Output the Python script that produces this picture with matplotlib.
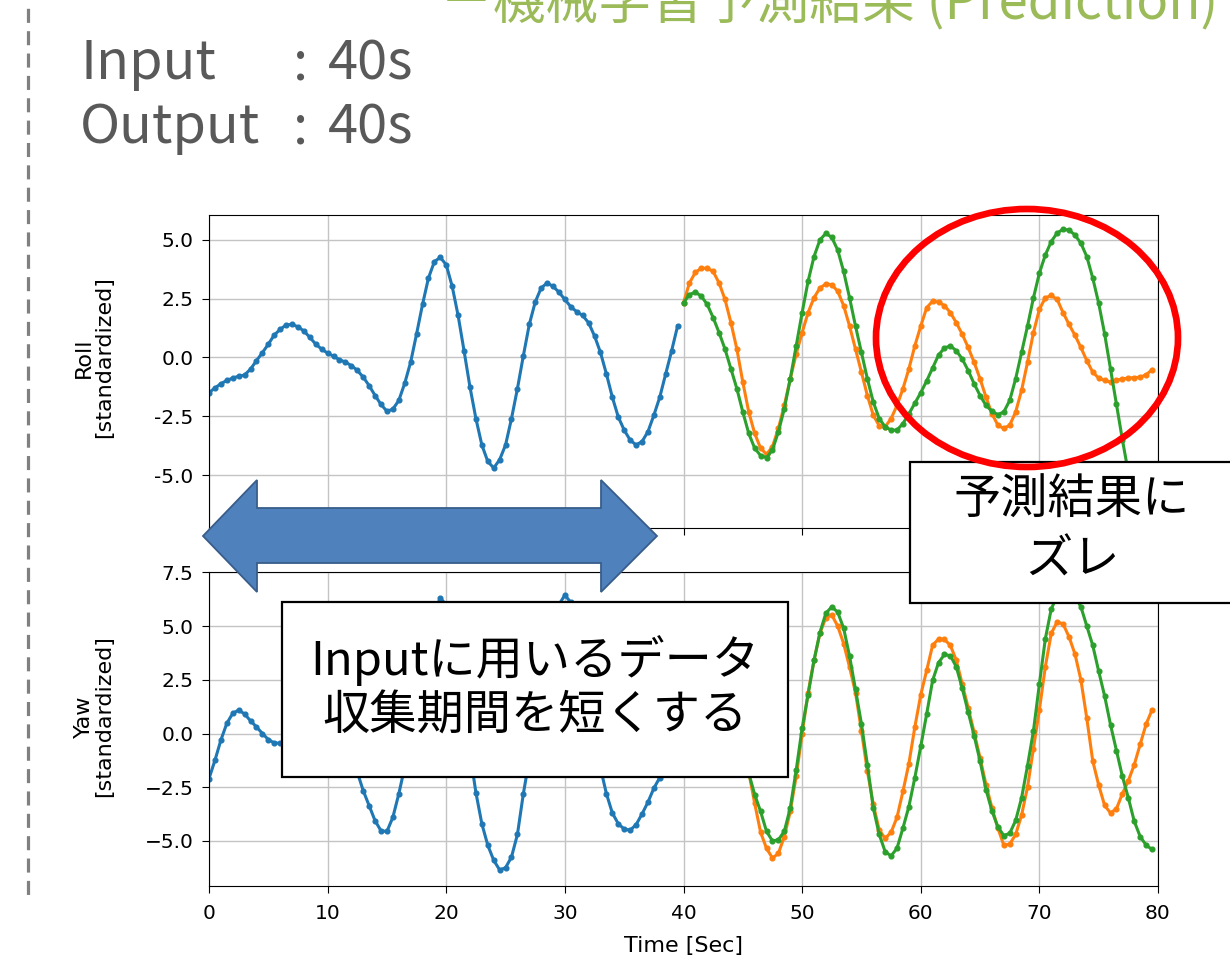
"""Roll / yaw prediction slide: input window vs. predicted and true output."""

import matplotlib

matplotlib.use("Agg")
import matplotlib.pyplot as plt
import numpy as np
from matplotlib.patches import Ellipse, Polygon, Rectangle
from matplotlib.ticker import FuncFormatter

W, H = 1230, 961
JP = ["Noto Sans CJK JP", "DejaVu Sans"]

# time axis, 0.5 s sampling
t_input = np.arange(0, 40, 0.5)
t_output = np.arange(40, 80, 0.5)

roll_input = [
    -1.50, -1.30, -1.12, -0.98, -0.88, -0.80, -0.75, -0.50, -0.14, 0.20,
    0.56, 0.95, 1.19, 1.38, 1.40, 1.30, 1.12, 0.85, 0.56, 0.35,
    0.18, 0.05, -0.10, -0.20, -0.35, -0.55, -0.84, -1.20, -1.62, -2.00,
    -2.29, -2.20, -1.83, -1.10, -0.20, 1.00, 2.25, 3.37, 4.07, 4.25,
    3.93, 3.02, 1.78, 0.28, -1.26, -2.60, -3.72, -4.42, -4.70, -4.35,
    -3.72, -2.60, -1.33, 0.07, 1.40, 2.35, 2.95, 3.16, 3.02, 2.77,
    2.46, 2.15, 1.94, 1.78, 1.47, 0.91, 0.21, -0.70, -1.69, -2.53,
    -3.09, -3.51, -3.72, -3.58, -3.16, -2.46, -1.69, -0.70, 0.28, 1.33,
]
roll_pred = [
    2.32, 3.16, 3.61, 3.79, 3.79, 3.65, 3.16, 2.46, 1.47, 0.35,
    -1.05, -2.32, -3.23, -3.86, -4.12, -3.79, -3.02, -2.04, -0.91, 0.14,
    1.05, 1.90, 2.53, 2.95, 3.12, 3.09, 2.81, 2.20, 1.33, 0.35,
    -0.63, -1.62, -2.46, -2.91, -2.95, -2.60, -2.04, -1.33, -0.49, 0.49,
    1.33, 2.11, 2.39, 2.35, 2.20, 1.90, 1.47, 0.98, 0.42, -0.21,
    -0.91, -1.69, -2.39, -2.88, -3.02, -2.88, -2.32, -1.40, -0.21, 1.05,
    2.04, 2.53, 2.63, 2.46, 1.90, 1.40, 0.94, 0.42, -0.14, -0.63,
    -0.88, -0.98, -1.05, -0.98, -0.91, -0.88, -0.86, -0.84, -0.74, -0.52,
]
roll_true = [
    2.32, 2.67, 2.77, 2.60, 2.25, 1.69, 1.05, 0.35, -0.49, -1.33,
    -2.32, -3.23, -3.86, -4.17, -4.26, -3.93, -3.16, -2.18, -0.91, 0.49,
    1.90, 3.23, 4.28, 4.99, 5.27, 5.10, 4.56, 3.65, 2.53, 1.33,
    0.21, -0.91, -1.90, -2.60, -2.95, -3.09, -3.09, -2.81, -2.40, -1.95,
    -1.50, -1.00, -0.45, 0.10, 0.40, 0.49, 0.28, -0.07, -0.56, -1.12,
    -1.62, -2.04, -2.29, -2.43, -2.32, -1.83, -0.91, 0.21, 1.33, 2.53,
    3.58, 4.35, 4.92, 5.29, 5.44, 5.41, 5.20, 4.85, 4.28, 3.37,
    2.30, 1.00, -0.50, -2.00, -3.50, -4.90, -5.80, -6.30, -6.55, -6.60,
]

yaw_input = [
    -2.10, -1.25, -0.31, 0.47, 0.94, 1.09, 0.91, 0.59, 0.31, 0.00,
    -0.28, -0.44, -0.45, -0.40, -0.25, 0.00, 0.30, 0.55, 0.65, 0.60,
    0.40, 0.10, -0.30, -0.75, -1.25, -1.80, -2.66, -3.36, -4.06, -4.53,
    -4.56, -3.90, -2.81, -1.56, -0.10, 1.50, 3.00, 4.50, 5.70, 6.30,
    6.00, 5.00, 3.50, 1.30, -0.90, -2.75, -4.20, -5.20, -5.90, -6.35,
    -6.25, -5.75, -4.70, -2.80, -1.20, 0.60, 2.40, 4.00, 5.30, 6.00,
    6.45, 6.10, 5.00, 3.70, 2.00, 0.20, -1.60, -2.80, -3.70, -4.20,
    -4.45, -4.50, -4.25, -3.75, -3.20, -2.55, -2.05, -1.00, 0.00, 1.00,
]
yaw_pred = [
    1.80, 2.80, 3.60, 4.10, 4.30, 4.20, 3.80, 3.00, 2.00, 0.80,
    -0.50, -1.80, -3.25, -4.60, -5.35, -5.80, -5.58, -4.80, -3.63, -2.00,
    -0.03, 1.90, 3.40, 4.66, 5.40, 5.52, 5.00, 4.19, 3.09, 1.90,
    0.12, -1.75, -3.30, -4.50, -4.88, -4.60, -3.90, -2.69, -1.40, 0.30,
    1.80, 2.94, 4.11, 4.40, 4.38, 4.10, 3.40, 2.30, 1.20, 0.05,
    -1.13, -2.38, -3.45, -4.40, -5.20, -5.15, -4.70, -3.80, -2.50, -0.70,
    1.10, 3.10, 4.66, 5.20, 5.10, 4.50, 3.70, 2.50, 0.70, -1.28,
    -2.40, -3.35, -3.70, -3.50, -2.80, -2.20, -1.45, -0.50, 0.44, 1.10,
]
yaw_true = [
    1.80, 2.50, 3.00, 3.20, 3.10, 2.80, 2.30, 1.60, 0.80, 0.00,
    -0.90, -1.85, -2.84, -3.63, -4.56, -5.00, -4.95, -4.55, -3.47, -1.70,
    0.25, 1.80, 3.40, 4.70, 5.60, 5.90, 5.65, 4.90, 3.60, 2.05,
    0.45, -1.45, -3.47, -4.70, -5.50, -5.70, -5.34, -4.40, -3.40, -2.06,
    -0.60, 0.91, 2.47, 3.30, 3.68, 3.62, 3.10, 2.10, 1.00, -0.10,
    -1.28, -2.61, -3.60, -4.35, -4.75, -4.65, -4.05, -3.00, -1.50, 0.12,
    2.30, 4.40, 5.80, 6.40, 6.75, 6.70, 6.40, 5.90, 5.00, 4.10,
    2.90, 1.75, 0.40, -0.80, -2.00, -3.00, -4.09, -4.80, -5.20, -5.40,
]

COLORS = {"input": "#1f77b4", "pred": "#ff7f0e", "true": "#2ca02c"}
TICK_SIZE = 14.5
LABEL_SIZE = 16


def px_axes(fig, left, top, right, bottom, **kwargs):
    return fig.add_axes([left / W, 1 - bottom / H, (right - left) / W, (bottom - top) / H], **kwargs)


def draw_panel(ax, input_values, pred_values, true_values, ylim, yticks, label, minus):
    ax.plot(t_input, input_values, color=COLORS["input"], lw=2.2, marker="o", ms=3.4)
    ax.plot(t_output, pred_values, color=COLORS["pred"], lw=2.2, marker="o", ms=3.4)
    ax.plot(t_output, true_values, color=COLORS["true"], lw=2.2, marker="o", ms=3.4)
    ax.set_xlim(0, 80)
    ax.set_ylim(*ylim)
    ax.set_xticks(range(0, 81, 10))
    ax.set_yticks(yticks)
    ax.grid(True, color="#c4c4c4", linewidth=1.0)
    ax.tick_params(labelsize=TICK_SIZE, pad=6, length=5)
    ax.tick_params(axis="x", pad=8)
    ax.yaxis.set_major_formatter(FuncFormatter(lambda v, _: f"{v:.1f}".replace("-", minus)))
    ax.set_ylabel(label, fontsize=LABEL_SIZE, linespacing=1.0)


def draw_overlay(fig):
    over = fig.add_axes([0, 0, 1, 1], zorder=10)
    over.set_xlim(0, W)
    over.set_ylim(H, 0)
    over.set_facecolor("none")
    over.axis("off")

    # dashed divider on the left edge of the slide
    over.plot([28, 28], [0, 897], color="#808080", lw=2.3, linestyle=(4.4, (4.4, 2.6)))

    over.text(440, 19, "－機械学習予測結果 (Prediction)", fontsize=38, color="#9BBB59",
              family=JP, ha="left", va="baseline")
    for baseline, word in ((79, "Input"), (143, "Output")):
        over.text(80, baseline, word, fontsize=39, color="#595959", family=JP, va="baseline")
        over.text(293, baseline, ":", fontsize=39, color="#595959", family=JP, va="baseline")
        over.text(328, baseline, "40s", fontsize=39, color="#595959", family=JP, va="baseline")

    arrow = [(203, 536), (257, 480), (257, 508), (601, 508), (601, 480), (657, 536),
             (601, 592), (601, 563), (257, 563), (257, 592)]
    over.add_patch(Polygon(arrow, closed=True, facecolor="#4F81BD", edgecolor="#385D8A", lw=1.3))

    over.add_patch(Rectangle((282, 602), 506, 175, facecolor="white", edgecolor="black", lw=1.6))
    over.text(535, 675, "Inputに用いるデータ", fontsize=34, family=JP, ha="center", va="baseline")
    over.text(535, 730, "収集期間を短くする", fontsize=34, family=JP, ha="center", va="baseline")

    over.add_patch(Rectangle((910, 462), 340, 141, facecolor="white", edgecolor="black", lw=1.6))
    over.text(1072, 514, "予測結果に", fontsize=34, family=JP, ha="center", va="baseline")
    over.text(1072, 574, "ズレ", fontsize=34, family=JP, ha="center", va="baseline")

    over.add_patch(Ellipse((1027, 338), 302, 258, fill=False, edgecolor="#FF0000", lw=4.8))


def main():
    fig = plt.figure(figsize=(W / 100, H / 100), dpi=100)

    roll_ax = px_axes(fig, 209, 215, 1158, 528)
    draw_panel(roll_ax, roll_input, roll_pred, roll_true, (-7.25, 6.05),
               [-5.0, -2.5, 0.0, 2.5, 5.0], "Roll\n[standardized]", "-")
    roll_ax.tick_params(labelbottom=False)
    roll_ax.yaxis.set_label_coords(-0.100, 0.545)

    yaw_ax = px_axes(fig, 209, 572, 1158, 886)
    draw_panel(yaw_ax, yaw_input, yaw_pred, yaw_true, (-7.1, 7.52),
               [-5.0, -2.5, 0.0, 2.5, 5.0, 7.5], "Yaw\n[standardized]", "\u2212")
    yaw_ax.yaxis.set_label_coords(-0.100, 0.54)
    yaw_ax.set_xlabel("Time [Sec]", fontsize=LABEL_SIZE, labelpad=9)

    draw_overlay(fig)
    fig.savefig("out.png", dpi=100)
    plt.close(fig)


if __name__ == "__main__":
    main()
